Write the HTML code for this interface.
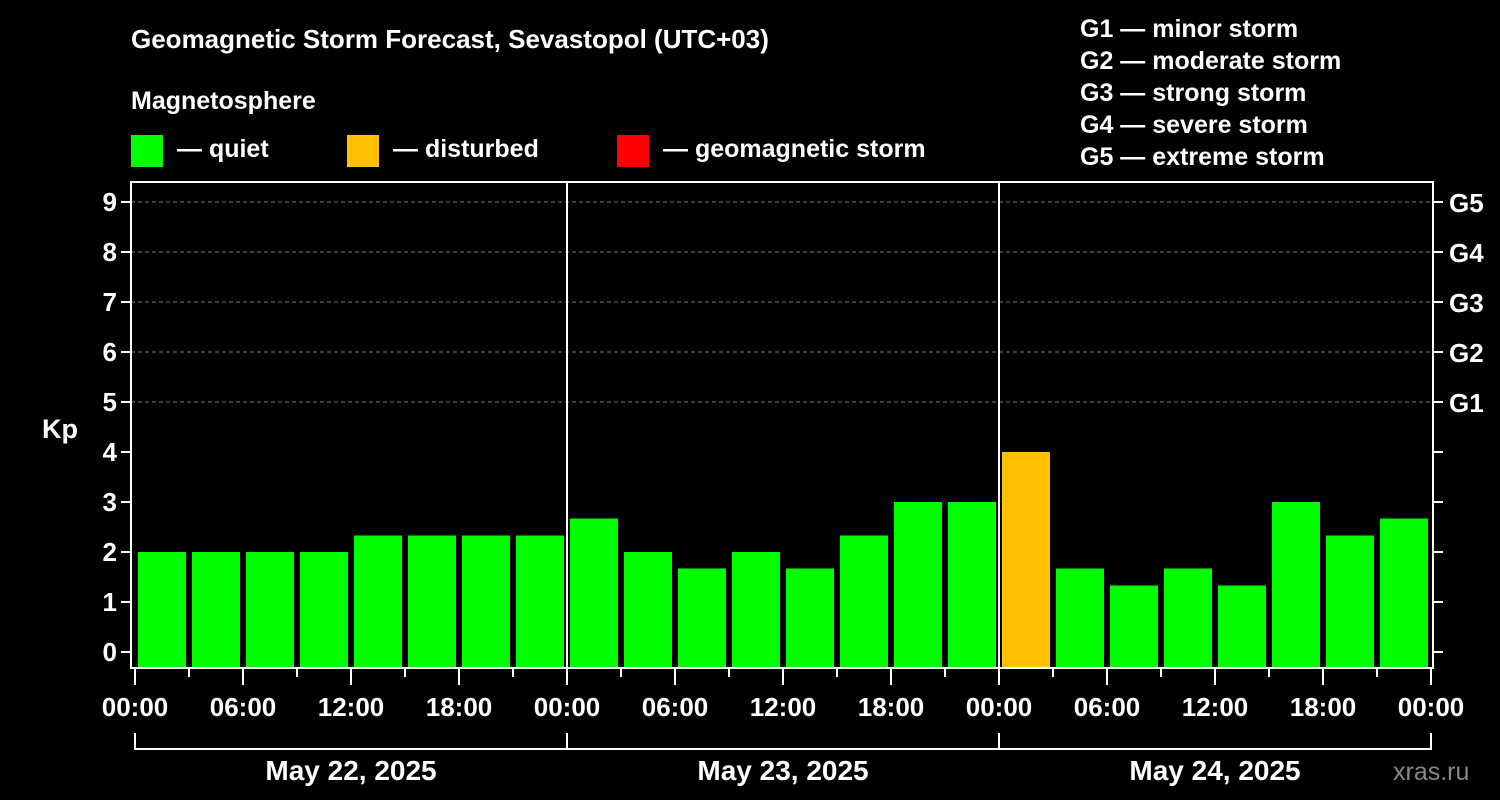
<!DOCTYPE html>
<html><head><meta charset="utf-8"><style>
html,body{margin:0;padding:0;background:#000;}
svg{display:block;font-family:"Liberation Sans",Arial,sans-serif;font-weight:bold;}
</style></head><body>
<svg id="chart" width="1500" height="800" viewBox="0 0 1500 800" xmlns="http://www.w3.org/2000/svg">
<rect width="1500" height="800" fill="#000"/>
<text x="131" y="48" fill="#fff" font-size="26">Geomagnetic Storm Forecast, Sevastopol (UTC+03)</text>
<text x="131" y="109" fill="#fff" font-size="25">Magnetosphere</text>
<g><rect x="131" y="135" width="32" height="32" fill="#00ff00"/><text x="177" y="157" fill="#fff" font-size="25">— quiet</text></g>
<g><rect x="347" y="135" width="32" height="32" fill="#ffc000"/><text x="393" y="157" fill="#fff" font-size="25">— disturbed</text></g>
<g><rect x="617" y="135" width="32" height="32" fill="#ff0000"/><text x="663" y="157" fill="#fff" font-size="25">— geomagnetic storm</text></g>
<g fill="#fff" font-size="25">
<text x="1080" y="37">G1 — minor storm</text>
<text x="1080" y="69">G2 — moderate storm</text>
<text x="1080" y="101">G3 — strong storm</text>
<text x="1080" y="133">G4 — severe storm</text>
<text x="1080" y="165">G5 — extreme storm</text>
</g>
<text x="42" y="438" fill="#fff" font-size="27">Kp</text>
<text x="1393" y="780" fill="#888" font-size="25" font-weight="normal">xras.ru</text>
<g id="grid"></g><g id="bars"></g><g id="axes"></g>
</svg>
<script>
const kpValues=[2,2,2,2,2.33,2.33,2.33,2.33, 2.67,2,1.67,2,1.67,2.33,3,3, 4,1.67,1.33,1.67,1.33,3,2.33,2.67];
const yTicks=[0,1,2,3,4,5,6,7,8,9];
const gLabels=["","","","","","G1","G2","G3","G4","G5"];
const xTickLabels=["00:00","06:00","12:00","18:00"];
const dayLabels=["May 22, 2025","May 23, 2025","May 24, 2025"];
const NS="http://www.w3.org/2000/svg";
const L=131,R=1433,T=182,B=668,X0=135,PXH=18;
const y=v=>652-50*v;
const x=h=>X0+h*PXH;
function mk(tag,attrs,parent,text){const e=document.createElementNS(NS,tag);for(const k in attrs)e.setAttribute(k,attrs[k]);if(text!==undefined)e.textContent=text;parent.appendChild(e);return e;}
const grid=document.getElementById('grid'),bars=document.getElementById('bars'),axes=document.getElementById('axes');
yTicks.forEach((v,i)=>{
 if(v>=5){const g=mk('line',{x1:L,x2:R,y1:y(v),y2:y(v),stroke:'#777','stroke-dasharray':'4,3','stroke-width':1},grid);
 
 }
 const t=mk('line',{x1:L-10,x2:L,y1:y(v),y2:y(v),stroke:'#fff','stroke-width':2},axes);
 
 
 const lb=mk('text',{x:L-14,y:y(v)+9,fill:'#fff','font-size':26,'text-anchor':'end'},axes,String(v));
 
 
 const rt=mk('line',{x1:R,x2:R+10,y1:y(v),y2:y(v),stroke:'#fff','stroke-width':2},axes);
 
 
 if(gLabels[i]){const gl=mk('text',{x:R+16,y:y(v)+10,fill:'#fff','font-size':26},axes,gLabels[i]);
 
 }
});
kpValues.forEach((v,i)=>{
 const c=v>=5?'#ff0000':(v>=4?'#ffc000':'#00ff00');
 const r=mk('rect',{x:x(i*3)+3,y:y(v),width:48,height:B-y(v),fill:c},bars);
 
 
});
const f=mk('rect',{x:L,y:T,width:R-L,height:B-T,fill:'none',stroke:'#fff','stroke-width':2},axes);


for(let d=1;d<3;d++){const s=mk('line',{x1:x(d*24),x2:x(d*24),y1:T,y2:B,stroke:'#fff','stroke-width':2},axes);
 
 }
for(let h=0;h<=72;h+=3){const major=h%6===0;
 const t=mk('line',{x1:x(h),x2:x(h),y1:B,y2:B+(major?17:9),stroke:'#fff','stroke-width':2},axes);
 
 
 if(major){const lb=mk('text',{x:x(h),y:716,fill:'#fff','font-size':26,'text-anchor':'middle'},axes,xTickLabels[(h/6)%4]);
 
 }}
dayLabels.forEach((d,i)=>{
 const br=mk('path',{d:`M${x(i*24)},733V749H${x(i*24+24)}V733`,fill:'none',stroke:'#fff','stroke-width':2},axes);
 
 
 const lb=mk('text',{x:x(i*24+12),y:780,fill:'#fff','font-size':28,'text-anchor':'middle'},axes,d);
 
 
});
</script>
</body></html>
